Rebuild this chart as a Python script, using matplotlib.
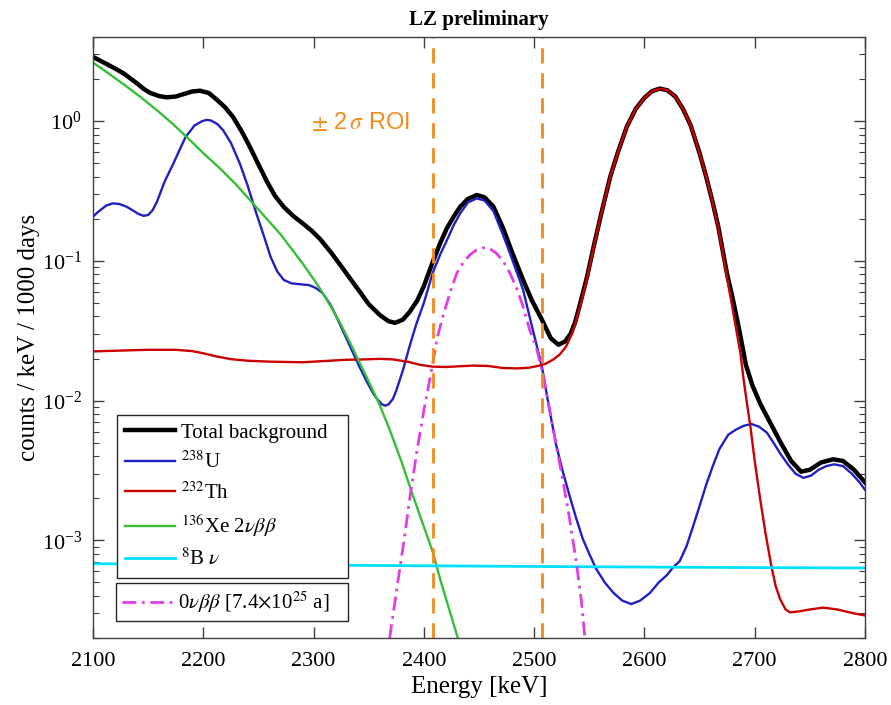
import matplotlib.pyplot as plt
from matplotlib.ticker import LogLocator, NullLocator, NullFormatter

# --- data (energy in keV, counts / keV / 1000 days) ---
e_total = [2100, 2110, 2120, 2128, 2140, 2146, 2152, 2160, 2167, 2175, 2182, 2190, 2197,
           2205, 2212, 2220, 2227, 2235, 2242, 2250, 2258, 2265, 2273, 2282, 2290,
           2298, 2306, 2315, 2324, 2333, 2342, 2350, 2360, 2368, 2374, 2381, 2387,
           2394, 2400, 2408, 2415, 2421, 2427, 2433, 2440, 2448, 2455, 2463, 2472,
           2480, 2490, 2498, 2507, 2515, 2522, 2528, 2533, 2537, 2541, 2548, 2554, 2561,
           2569, 2576, 2584, 2592, 2600, 2607, 2614, 2621, 2628, 2635, 2642, 2650,
           2656, 2662, 2667, 2671, 2675, 2680, 2686, 2692, 2698, 2705, 2713, 2723,
           2733, 2742, 2750, 2760, 2771, 2780, 2790, 2800]
total = [2.88, 2.62, 2.38, 2.19, 1.86, 1.70, 1.59, 1.51, 1.48, 1.50, 1.56, 1.63, 1.65,
         1.59, 1.43, 1.25, 1.07, 0.84, 0.66, 0.49, 0.366, 0.292, 0.243, 0.208, 0.186,
         0.165, 0.143, 0.117, 0.094, 0.075, 0.060, 0.049, 0.041, 0.037, 0.036, 0.038, 0.043,
         0.052, 0.066, 0.098, 0.135, 0.172, 0.207, 0.244, 0.278, 0.296, 0.285, 0.245, 0.170,
         0.115, 0.073, 0.052, 0.038, 0.028, 0.0251, 0.0265, 0.030, 0.036, 0.047, 0.077, 0.127, 0.22,
         0.40, 0.60, 0.91, 1.22, 1.47, 1.64, 1.71, 1.66, 1.50, 1.22, 0.93, 0.59,
         0.40, 0.26, 0.175, 0.118, 0.080, 0.054, 0.032, 0.018, 0.0128, 0.0095, 0.0072, 0.0051,
         0.0037, 0.0031, 0.0032, 0.0036, 0.0038, 0.0037, 0.0032, 0.0026]

e_u238 = [2100, 2104, 2112, 2118, 2124, 2130, 2136, 2141, 2146, 2150, 2154, 2158, 2165,
          2173, 2180, 2184, 2192, 2199, 2203, 2207, 2213, 2218, 2225, 2233, 2240, 2248,
          2255, 2261, 2267, 2273, 2280, 2288, 2296, 2302, 2308, 2315, 2320, 2324, 2333,
          2342, 2348, 2354, 2357, 2362, 2365, 2368, 2372, 2375, 2381, 2387, 2393, 2400,
          2408, 2415, 2421, 2427, 2433, 2440, 2448, 2455, 2463, 2472, 2480, 2490, 2498,
          2507, 2514, 2520, 2526, 2532, 2538, 2544, 2550, 2556, 2564, 2572, 2580, 2588,
          2596, 2605, 2613, 2620, 2626, 2632, 2638, 2644, 2650, 2656, 2662, 2668, 2676,
          2683, 2690, 2697, 2704, 2711, 2717, 2723, 2730, 2737, 2744, 2751, 2758, 2765,
          2772, 2780, 2788, 2795, 2800]
u238 = [0.207, 0.222, 0.249, 0.258, 0.255, 0.245, 0.230, 0.217, 0.210, 0.213, 0.230, 0.265, 0.37,
        0.50, 0.66, 0.77, 0.93, 1.00, 1.02, 1.01, 0.95, 0.86, 0.70, 0.50, 0.35, 0.22,
        0.15, 0.107, 0.084, 0.073, 0.069, 0.068, 0.067, 0.064, 0.059, 0.049, 0.041, 0.035, 0.0245,
        0.0172, 0.0138, 0.0113, 0.0104, 0.0094, 0.0092, 0.0094, 0.0103, 0.0118, 0.0165, 0.0244, 0.035, 0.050,
        0.082, 0.112, 0.141, 0.180, 0.219, 0.262, 0.280, 0.270, 0.228, 0.152, 0.103, 0.062, 0.034,
        0.0176, 0.0085, 0.0048, 0.0031, 0.0021, 0.00145, 0.00103, 0.00080, 0.00063, 0.00050, 0.00042, 0.00037, 0.00035,
        0.00037, 0.00042, 0.00050, 0.00056, 0.00064, 0.00071, 0.00090, 0.00125, 0.00176, 0.0025, 0.0034, 0.0045, 0.0057,
        0.0062, 0.0066, 0.0068, 0.0065, 0.0059, 0.0050, 0.0042, 0.0035, 0.0030, 0.0028, 0.0029, 0.0032, 0.0034,
        0.0035, 0.0034, 0.0030, 0.0026, 0.0023]

e_th232 = [2100, 2125, 2150, 2175, 2190, 2200, 2212, 2225, 2240, 2260, 2290, 2310,
           2330, 2345, 2360, 2372, 2385, 2397, 2408, 2420, 2432, 2445, 2458, 2472,
           2485, 2495, 2502, 2510, 2517, 2523, 2529, 2535, 2541, 2548, 2554, 2561,
           2569, 2576, 2584, 2592, 2600, 2607, 2614, 2621, 2628, 2635, 2642, 2650,
           2656, 2662, 2667, 2671, 2675, 2679, 2683, 2687, 2690, 2693, 2696, 2700,
           2705, 2710, 2715, 2719, 2723, 2728, 2732, 2740, 2750, 2762, 2775, 2790, 2800]
th232 = [0.0225, 0.0228, 0.0231, 0.0231, 0.0226, 0.0218, 0.0207, 0.0198, 0.0193, 0.0190, 0.0188, 0.0192,
         0.0196, 0.0197, 0.0199, 0.0197, 0.0190, 0.0180, 0.0175, 0.0174, 0.0176, 0.0178, 0.0177, 0.0171,
         0.0170, 0.0172, 0.0176, 0.0183, 0.0196, 0.0213, 0.0244, 0.031, 0.045, 0.075, 0.126, 0.22,
         0.40, 0.60, 0.91, 1.22, 1.47, 1.64, 1.71, 1.66, 1.50, 1.22, 0.93, 0.59,
         0.40, 0.258, 0.17, 0.114, 0.075, 0.050, 0.033, 0.022, 0.014, 0.0095, 0.0066, 0.0037,
         0.00196, 0.0011, 0.00066, 0.00047, 0.00038, 0.00032, 0.000305, 0.00031, 0.00032, 0.00033, 0.00032, 0.00030, 0.00029]

e_xe136 = [2100, 2115, 2130, 2143, 2160, 2172, 2185, 2200, 2215, 2230, 2245, 2260,
           2270, 2280, 2290, 2300, 2306, 2315, 2324, 2333, 2342, 2350, 2360, 2370,
           2380, 2390, 2400, 2408, 2415, 2422, 2430, 2436]
xe136 = [2.63, 2.17, 1.78, 1.49, 1.16, 0.96, 0.77, 0.59, 0.46, 0.35, 0.258, 0.19,
         0.155, 0.122, 0.096, 0.074, 0.063, 0.048, 0.036, 0.026, 0.0185, 0.0137, 0.0093, 0.0059,
         0.0036, 0.0021, 0.00125, 0.00083, 0.00052, 0.00034, 0.00021, 0.00014]

e_b8 = [2100, 2300, 2500, 2700, 2800]
b8 = [0.00068, 0.000665, 0.00065, 0.000638, 0.000634]

e_0nbb = [2369, 2376, 2382, 2388, 2394, 2400, 2406, 2412, 2418, 2424, 2430, 2436,
          2442, 2448, 2454, 2460, 2466, 2472, 2478, 2484, 2490, 2496, 2502, 2508,
          2514, 2520, 2526, 2532, 2538, 2543, 2546]
sig_0nbb = [0.00020, 0.00048, 0.00100, 0.0022, 0.0045, 0.0085, 0.0150, 0.028, 0.042, 0.060, 0.082, 0.098,
            0.111, 0.120, 0.124, 0.122, 0.113, 0.099, 0.082, 0.064, 0.047, 0.032, 0.024, 0.0155,
            0.0087, 0.0048, 0.0027, 0.00145, 0.00072, 0.00036, 0.00020]

roi_edges = [2408, 2507]

# --- figure ---
plt.rcParams['font.family'] = ['Liberation Serif', 'DejaVu Serif']
plt.rcParams['mathtext.fontset'] = 'stix'

fig = plt.figure(figsize=(8.91, 7.05), dpi=100)
ax = fig.add_axes([93 / 891, 67 / 705, 772 / 891, 601 / 705])

orange = '#f28a1e'
l_tot, = ax.plot(e_total, total, color='black', lw=3.2, label='Total background',
                 solid_joinstyle='round')
l_u, = ax.plot(e_u238, u238, color='#2020c4', lw=1.7, label=r'$^{238}$U')
l_th, = ax.plot(e_th232, th232, color='#cc0000', lw=1.7, label=r'$^{232}$Th')
l_xe, = ax.plot(e_xe136, xe136, color='#36bf36', lw=1.7, label=r'$^{136}$Xe 2$\nu\beta\beta$')
l_b8, = ax.plot(e_b8, b8, color='#00e1ff', lw=2.0, label=r'$^{8}$B $\nu$')
l_sig, = ax.plot(e_0nbb, sig_0nbb, color='#e23de2', lw=2.0, dashes=(5, 2, 1, 2),
                 label=r'0$\nu\beta\beta$ [7.4$\times$10$^{25}$ a]')
for e in roi_edges:
    ax.axvline(e, color=orange, lw=2.0, dashes=(5.5, 3.5))

ax.text(2298, 0.97, r'$\pm$ 2$\,\sigma$ ROI', color=orange, fontsize=17,
        family=['Liberation Sans', 'DejaVu Sans'], va='center', ha='left')

ax.set_yscale('log')
ax.set_xlim(2100, 2800)
ax.set_ylim(2e-4, 4)
ax.xaxis.set_minor_locator(NullLocator())
ax.yaxis.set_major_locator(LogLocator(base=10, numticks=10))
ax.yaxis.set_minor_locator(LogLocator(base=10, subs=range(2, 10), numticks=20))
ax.yaxis.set_minor_formatter(NullFormatter())

ax.tick_params(which='both', direction='in', top=True, right=True,
               color='#404040', labelsize=16)
ax.tick_params(axis='x', pad=10)
ax.tick_params(axis='y', pad=8)
ax.tick_params(which='major', length=8, width=1)
ax.tick_params(which='minor', length=4, width=0.8)
for s in ax.spines.values():
    s.set_color('#404040')
    s.set_linewidth(1.0)

ax.set_xlabel('Energy [keV]', fontsize=18, labelpad=4)
ax.set_ylabel('counts / keV / 1000 days', fontsize=18, labelpad=1)
ax.set_title('LZ preliminary', fontsize=15, fontweight='bold', pad=9)

leg1 = ax.legend(handles=[l_tot, l_u, l_th, l_xe, l_b8], loc='upper left',
                 bbox_to_anchor=(0.0315, 0.1015, 0.2992, 0.2695), mode='expand',
                 borderaxespad=0, fancybox=False, edgecolor='#262626', framealpha=1,
                 fontsize=15, handlelength=2.4, handletextpad=0.3,
                 labelspacing=0.44, borderpad=0.38)
leg1.get_frame().set_linewidth(1.0)
ax.add_artist(leg1)

leg2 = ax.legend(handles=[l_sig], loc='upper left',
                 bbox_to_anchor=(0.0294, 0.0333, 0.3013, 0.0582), mode='expand',
                 borderaxespad=0, fancybox=False, edgecolor='#262626', framealpha=1,
                 fontsize=15, handlelength=2.4, handletextpad=0.3, borderpad=0.3)
leg2.get_frame().set_linewidth(1.0)

fig.savefig('out.png', dpi=100)
